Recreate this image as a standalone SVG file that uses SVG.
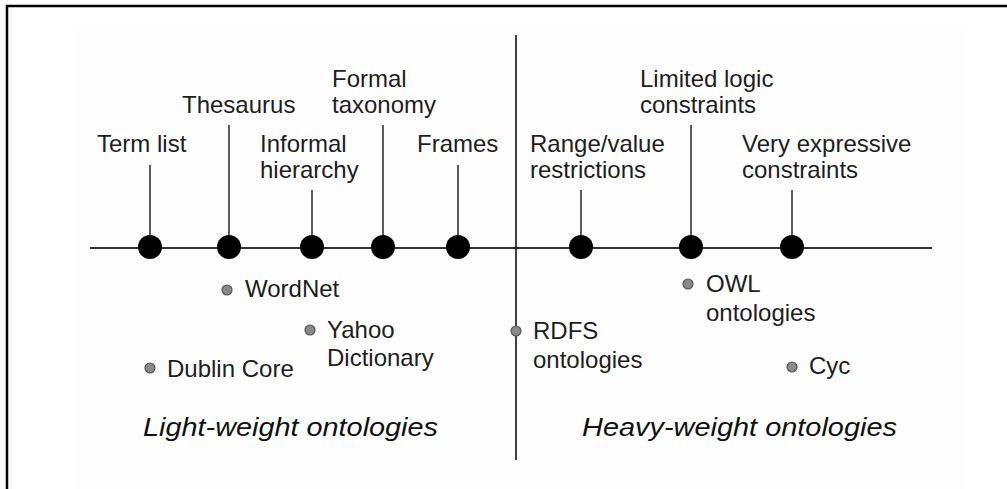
<svg xmlns="http://www.w3.org/2000/svg" width="1007" height="489" viewBox="0 0 1007 489">
  <style>
    .frame { stroke: #000; stroke-width: 2.5; fill: none; }
    .axis { stroke: #333; stroke-width: 2; fill: none; }
    .divider { stroke: #111; stroke-width: 1.6; fill: none; }
    .stem { stroke: #333; stroke-width: 1.6; fill: none; }
    .level { fill: #000; }
    .example { fill: #8a8a8a; stroke: #555; stroke-width: 1.2; }
    .label { font-family: "Liberation Sans", Arial, sans-serif; font-size: 24px; fill: #1e1e1e; }
    .group { font-family: "Liberation Sans", Arial, sans-serif; font-size: 25px; font-style: italic; fill: #111; }
  </style>

  <!-- page -->
  <rect x="0" y="0" width="1007" height="489" fill="#fff"/>
  <rect x="73" y="30" width="890" height="459" fill="#fdfdfd"/>
  <path class="frame" d="M7 489 V6 H1007"/>

  <!-- axes -->
  <g id="connectors">
    <line class="axis" x1="90" y1="248" x2="932" y2="248"/>
    <line class="divider" x1="516" y1="35" x2="516" y2="460"/>
    <line class="stem" x1="150" y1="165" x2="150" y2="247"/>
    <line class="stem" x1="229" y1="125" x2="229" y2="247"/>
    <line class="stem" x1="312" y1="190" x2="312" y2="247"/>
    <line class="stem" x1="383" y1="125" x2="383" y2="247"/>
    <line class="stem" x1="458" y1="165" x2="458" y2="247"/>
    <line class="stem" x1="581" y1="190" x2="581" y2="247"/>
    <line class="stem" x1="691" y1="125" x2="691" y2="247"/>
    <line class="stem" x1="792" y1="190" x2="792" y2="247"/>
  </g>

  <!-- levels on the axis -->
  <g id="term-list">
    <circle class="level" cx="150" cy="247" r="12"/>
    <text class="label" x="97" y="152">Term list</text>
  </g>
  <g id="thesaurus">
    <circle class="level" cx="229" cy="247" r="12"/>
    <text class="label" x="182" y="113">Thesaurus</text>
  </g>
  <g id="informal-hierarchy">
    <circle class="level" cx="312" cy="247" r="12"/>
    <text class="label" x="260" y="152">Informal</text>
    <text class="label" x="260" y="178">hierarchy</text>
  </g>
  <g id="formal-taxonomy">
    <circle class="level" cx="383" cy="247" r="12"/>
    <text class="label" x="332" y="87">Formal</text>
    <text class="label" x="332" y="113">taxonomy</text>
  </g>
  <g id="frames">
    <circle class="level" cx="458" cy="247" r="12"/>
    <text class="label" x="417" y="152">Frames</text>
  </g>
  <g id="range-value">
    <circle class="level" cx="581" cy="247" r="12"/>
    <text class="label" x="530" y="152">Range/value</text>
    <text class="label" x="530" y="178">restrictions</text>
  </g>
  <g id="limited-logic">
    <circle class="level" cx="691" cy="247" r="12"/>
    <text class="label" x="640" y="87">Limited logic</text>
    <text class="label" x="640" y="113">constraints</text>
  </g>
  <g id="very-expressive">
    <circle class="level" cx="792" cy="247" r="12"/>
    <text class="label" x="742" y="152">Very expressive</text>
    <text class="label" x="742" y="178">constraints</text>
  </g>

  <!-- example ontologies -->
  <g id="wordnet">
    <circle class="example" cx="227" cy="290" r="5"/>
    <text class="label" x="245" y="297">WordNet</text>
  </g>
  <g id="yahoo-dictionary">
    <circle class="example" cx="310" cy="330" r="5"/>
    <text class="label" x="327" y="338">Yahoo</text>
    <text class="label" x="327" y="366">Dictionary</text>
  </g>
  <g id="dublin-core">
    <circle class="example" cx="150" cy="368" r="5"/>
    <text class="label" x="167" y="377">Dublin Core</text>
  </g>
  <g id="rdfs">
    <circle class="example" cx="516" cy="331" r="5"/>
    <text class="label" x="533" y="339">RDFS</text>
    <text class="label" x="533" y="368">ontologies</text>
  </g>
  <g id="owl">
    <circle class="example" cx="688" cy="284" r="5"/>
    <text class="label" x="706" y="292">OWL</text>
    <text class="label" x="706" y="321">ontologies</text>
  </g>
  <g id="cyc">
    <circle class="example" cx="792" cy="367" r="5"/>
    <text class="label" x="809" y="374">Cyc</text>
  </g>

  <!-- group captions -->
  <g id="light-weight">
    <text class="group" x="143" y="436" textLength="295" lengthAdjust="spacingAndGlyphs">Light-weight ontologies</text>
  </g>
  <g id="heavy-weight">
    <text class="group" x="582" y="436" textLength="315" lengthAdjust="spacingAndGlyphs">Heavy-weight ontologies</text>
  </g>
</svg>
